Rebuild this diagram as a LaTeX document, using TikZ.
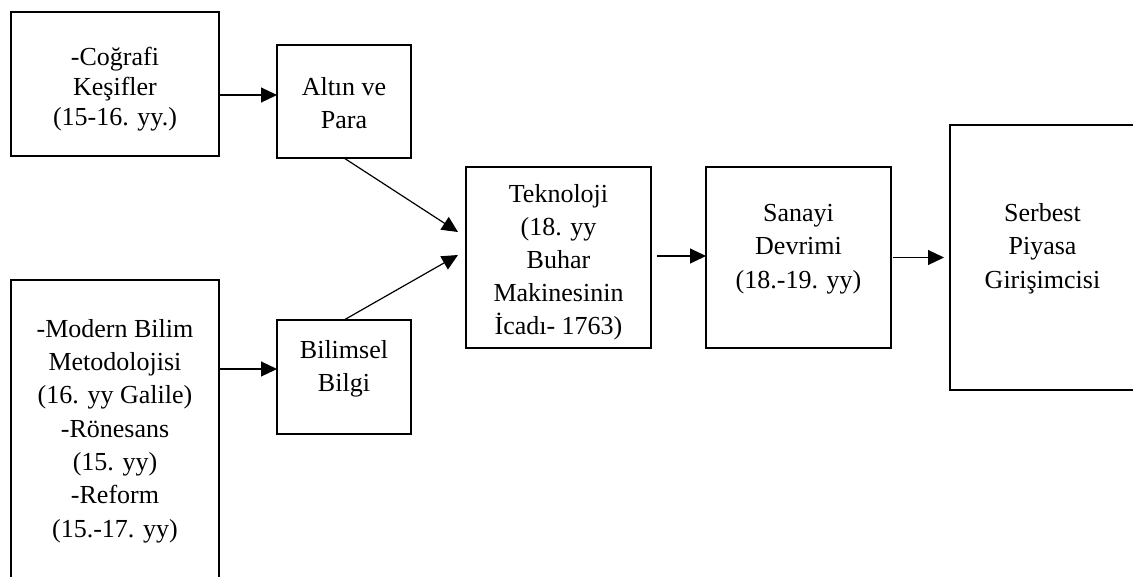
\documentclass[tikz,border=0pt]{standalone}
\usepackage{fontspec}
\setmainfont{Liberation Serif}
\usetikzlibrary{arrows.meta,calc}
\newcommand\tstrut{\rule{0pt}{23pt}}
\begin{document}
\begin{tikzpicture}[x=1pt,y=-1pt,
  box/.style={draw=black,line width=2.5pt,inner sep=0pt,outer sep=0pt,rectangle},
  txt/.style={anchor=north,inner sep=0pt,align=center,font=\fontsize{26}{33}\selectfont},
  arr/.style={line width=1.2pt,-{Triangle[length=16pt,width=15pt]}}]
\useasboundingbox (0,0) rectangle (1133,576);
\clip (0,0) rectangle (1133,576);
% boxes
\node[box,minimum width=208pt,minimum height=144pt] (b1) at (115,84) {};
\node[box,minimum width=134pt,minimum height=113pt] (b2) at (344,101.5) {};
\node[box,minimum width=208pt,minimum height=320pt] (b3) at (115,440) {};
\node[box,minimum width=134pt,minimum height=114pt] (b4) at (344,377) {};
\node[box,minimum width=185pt,minimum height=181pt] (b5) at (558.5,257.5) {};
\node[box,minimum width=185pt,minimum height=181pt] (b6) at (798.5,257.5) {};
\node[box,minimum width=185pt,minimum height=265pt] (b7) at (1042.5,257.5) {};
% texts
\node[txt,font=\fontsize{26}{30}\selectfont] (t1) at (115,42) {\tstrut-Coğrafi\\Keşifler\\(15-16. yy.)};
\node[txt] (t2) at (344,72) {\tstrut Altın ve\\Para};
\node[txt,font=\fontsize{26}{33.3}\selectfont] (t3) at (115,314) {\tstrut-Modern Bilim\\Metodolojisi\\(16. yy Galile)\\-Rönesans\\(15. yy)\\-Reform\\(15.-17. yy)};
\node[txt,font=\fontsize{26}{33.5}\selectfont] (t4) at (344,335) {\tstrut Bilimsel\\Bilgi};
\node[txt] (t5) at (558.5,179) {\tstrut Teknoloji\\(18. yy\\Buhar\\Makinesinin\\İcadı- 1763)};
\node[txt,font=\fontsize{26}{33.5}\selectfont] (t6) at (798.5,198) {\tstrut Sanayi\\Devrimi\\(18.-19. yy)};
\node[txt,font=\fontsize{26}{33.5}\selectfont] (t7) at (1042.5,198) {\tstrut Serbest\\Piyasa\\Girişimcisi};
% connectors
\draw[arr] (b1.east |- 0,95) -- (b2.west |- 0,95);
\draw[arr] (b3.east |- 0,369) -- (b4.west |- 0,369);
\draw[arr] (b2.south) -- ($(b5.west)+(-8,-25.5)$);
\draw[arr] (b4.north) -- ($(b5.west)+(-8,-2.5)$);
\draw[arr] ($(b5.east)+(6,-1.5)$) -- ($(b6.west)+(0,-1.5)$);
\draw[arr] ($(b6.east)+(2,0)$) -- ($(b7.west)+(-6,0)$);
\end{tikzpicture}
\end{document}
